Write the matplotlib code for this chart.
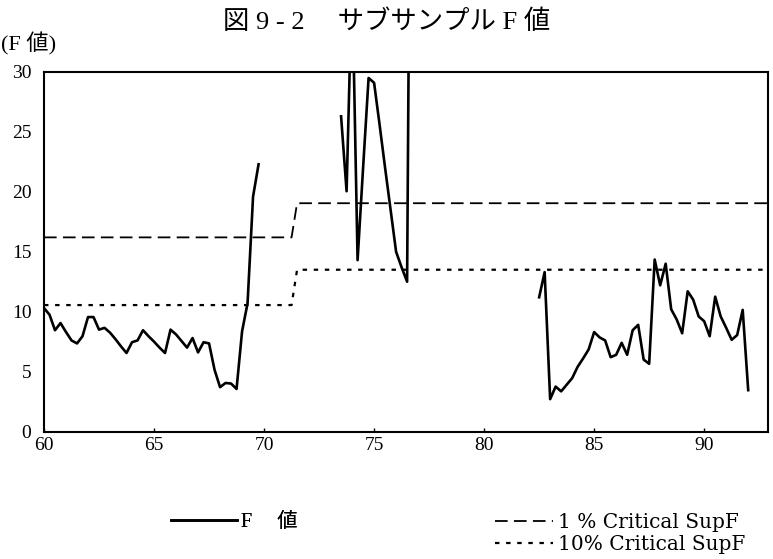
import numpy as np
import matplotlib.pyplot as plt

plt.rcParams['font.family'] = ['Liberation Serif', 'Noto Sans CJK JP']

# 四半期ごとのサブサンプル F 値 (計算できない期間は空ける)
f_early = [10.3, 9.75, 8.45, 9.05, 8.3, 7.6, 7.35, 7.95, 9.55, 9.55,
           8.5, 8.65, 8.25, 7.7, 7.1, 6.55, 7.45, 7.6, 8.45, 7.95,
           7.5, 7.0, 6.55, 8.5, 8.1, 7.55, 7.0, 7.8, 6.6, 7.45,
           7.35, 5.15, 3.7, 4.05, 4.0, 3.55, 8.35, 10.7, 19.6, 22.3]
f_mid = [26.3, 20.05, 38.0, 14.3, 22.0, 29.5, 29.1, 25.6, 22.0, 18.5,
         15.0, 13.7, 12.5, 80.0]
f_late = [11.2, 13.3, 2.7, 3.75, 3.35, 3.9, 4.45, 5.4, 6.1, 6.85,
          8.3, 7.85, 7.6, 6.2, 6.4, 7.4, 6.4, 8.45, 8.9, 6.0,
          5.65, 14.35, 12.2, 14.0, 10.2, 9.35, 8.2, 11.7, 11.0, 9.6,
          9.2, 7.95, 11.25, 9.6, 8.65, 7.65, 8.05, 10.15, 3.45]
start_early, start_mid, start_late = 60.0, 73.5, 82.5

# 臨界値 (1%, 10%)
crit_x = [60.0, 71.25, 71.5, 92.9]
crit_1 = [16.2, 16.2, 19.05, 19.05]
crit_10 = [10.55, 10.55, 13.5, 13.5]

x_ticks = [60, 65, 70, 75, 80, 85, 90]
y_ticks = [0, 5, 10, 15, 20, 25, 30]


def quarters(start, values):
    return start + 0.25 * np.arange(len(values))


x_all = np.concatenate([quarters(start_early, f_early), [np.nan],
                        quarters(start_mid, f_mid), [np.nan],
                        quarters(start_late, f_late)])
f_all = np.concatenate([f_early, [np.nan], f_mid, [np.nan], f_late])

fig = plt.figure(figsize=(7.73, 5.59), dpi=100)
ax = fig.add_axes([44 / 773, 1 - 431.5 / 559, 724 / 773, 359.5 / 559])

line_f, = ax.plot(x_all, f_all, color='black', lw=1.9, label='F　 値')
line_1, = ax.plot(crit_x, crit_1, color='black', lw=1.3,
                  linestyle=(0, (7, 3.5)), label='1 % Critical SupF')
line_10, = ax.plot(crit_x, crit_10, color='black', lw=1.6,
                   linestyle=(0, (2, 3)), label='10% Critical SupF')

ax.set_xlim(60, 92.9)
ax.set_ylim(0, 30)
ax.set_xticks(x_ticks)
ax.set_yticks(y_ticks)
ax.tick_params(axis='x', direction='in', length=3, width=1, labelsize=14, pad=4)
ax.tick_params(axis='y', length=0, labelsize=14, pad=9)
for s in ax.spines.values():
    s.set_linewidth(1.5)

fig.text(0.5, 1 - 22 / 559, '図 9 - 2　 サブサンプル F 値', ha='center', va='center',
         fontsize=19)
fig.text(1 / 773, 1 - 44 / 559, '(F 値)', ha='left', va='center', fontsize=16)

leg1 = fig.legend(handles=[line_f], loc='center left',
                  bbox_to_anchor=(171 / 773, 1 - 522 / 559), frameon=False,
                  fontsize=14.5, handlelength=3.3, handletextpad=0.2,
                  borderaxespad=0, borderpad=0)
fig.add_artist(leg1)
fig.legend(handles=[line_1, line_10], loc='upper left',
           bbox_to_anchor=(495 / 773, 1 - 513 / 559), frameon=False,
           prop={'family': ['DejaVu Serif'], 'size': 14.5},
           handlelength=2.9, handletextpad=0.25,
           labelspacing=0.15, borderaxespad=0, borderpad=0)

fig.savefig('out.png', dpi=100)
